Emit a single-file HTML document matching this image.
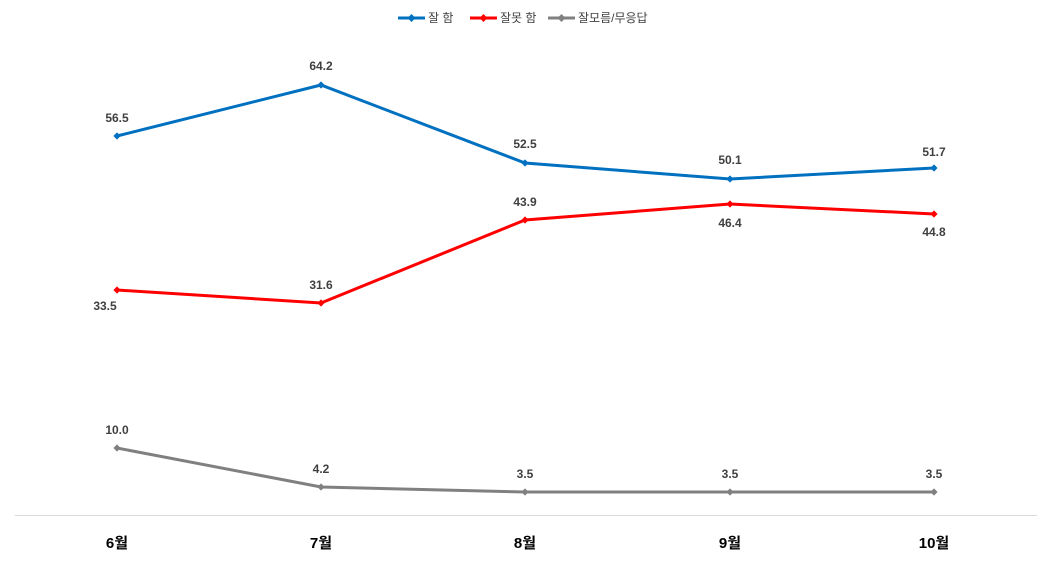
<!DOCTYPE html>
<html><head><meta charset="utf-8"><style>
body{margin:0;background:#fff;}
svg text{font-family:"Liberation Sans","Noto Sans CJK KR",sans-serif;}
</style></head><body>
<svg width="1052" height="562" viewBox="0 0 1052 562" xmlns="http://www.w3.org/2000/svg">
<defs>
<marker id="mb" viewBox="-5 -5 10 10" markerWidth="9" markerHeight="9" markerUnits="userSpaceOnUse"><path d="M0,-4L4,0L0,4L-4,0Z" fill="#0070C0"/></marker>
<marker id="mr" viewBox="-5 -5 10 10" markerWidth="9" markerHeight="9" markerUnits="userSpaceOnUse"><path d="M0,-4L4,0L0,4L-4,0Z" fill="#FF0000"/></marker>
<marker id="mg" viewBox="-5 -5 10 10" markerWidth="9" markerHeight="9" markerUnits="userSpaceOnUse"><path d="M0,-4L4,0L0,4L-4,0Z" fill="#808080"/></marker>
</defs>
<line x1="15" y1="515.5" x2="1037" y2="515.5" stroke="#d9d9d9" stroke-width="1"/>
<polyline points="117,136 321,85 525,163 730,179 934,168" fill="none" stroke="#0070C0" stroke-width="3" marker-start="url(#mb)" marker-mid="url(#mb)" marker-end="url(#mb)"/>
<polyline points="117,290 321,303 525,220 730,204 934,214" fill="none" stroke="#FF0000" stroke-width="3" marker-start="url(#mr)" marker-mid="url(#mr)" marker-end="url(#mr)"/>
<polyline points="117,448 321,487 525,492 730,492 934,492" fill="none" stroke="#808080" stroke-width="3" marker-start="url(#mg)" marker-mid="url(#mg)" marker-end="url(#mg)"/>
<g font-size="12" font-weight="bold" fill="#404040" text-anchor="middle">
<text x="117" y="122">56.5</text><text x="321" y="70">64.2</text><text x="525" y="148">52.5</text><text x="730" y="164">50.1</text><text x="934" y="156">51.7</text>
<text x="105" y="310">33.5</text><text x="321" y="289">31.6</text><text x="525" y="206">43.9</text><text x="730" y="227">46.4</text><text x="934" y="236">44.8</text>
<text x="117" y="434">10.0</text><text x="321" y="473">4.2</text><text x="525" y="478">3.5</text><text x="730" y="478">3.5</text><text x="934" y="478">3.5</text>
</g>
<g font-size="15" font-weight="bold" fill="#000" text-anchor="middle">
<text x="117" y="548">6월</text><text x="321" y="548">7월</text><text x="525" y="548">8월</text><text x="730" y="548">9월</text><text x="934" y="548">10월</text>
</g>
<g font-size="12" fill="#404040">
<line x1="398" y1="18" x2="425" y2="18" stroke="#0070C0" stroke-width="3" marker-mid="url(#mb)"/><path d="M411.5,14L415.5,18L411.5,22L407.5,18Z" fill="#0070C0"/>
<text x="428" y="22">잘 함</text>
<line x1="470" y1="18" x2="497" y2="18" stroke="#FF0000" stroke-width="3"/><path d="M483.5,14L487.5,18L483.5,22L479.5,18Z" fill="#FF0000"/>
<text x="500" y="22">잘못 함</text>
<line x1="548" y1="18" x2="575" y2="18" stroke="#808080" stroke-width="3"/><path d="M561.5,14L565.5,18L561.5,22L557.5,18Z" fill="#808080"/>
<text x="578" y="22">잘모름/무응답</text>
</g>
</svg>
</body></html>
